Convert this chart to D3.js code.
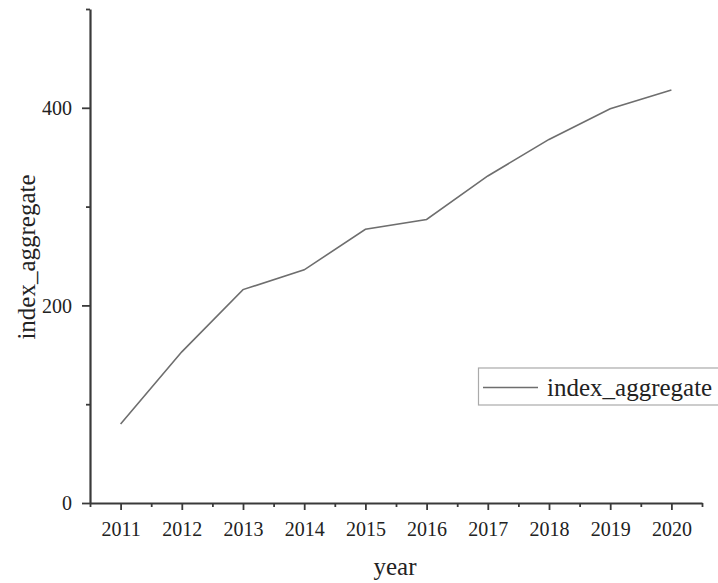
<!DOCTYPE html>
<html>
<head>
<meta charset="utf-8">
<script src="https://cdn.jsdelivr.net/npm/d3@7"></script>
<style>
  html, body { margin: 0; padding: 0; background: #fff; }
  svg { display: block; }
  text { font-family: "Liberation Serif", "Times New Roman", serif; fill: #222; }
</style>
</head>
<body>
<svg id="chart" width="718" height="583"></svg>
<script>
// ---- data ----
const years = [2011, 2012, 2013, 2014, 2015, 2016, 2017, 2018, 2019, 2020];
const indexAggregate = [80, 153, 216, 236, 277, 287, 331, 368, 399, 418];
const yMajorTicks = [0, 200, 400];
const yMinorTicks = [100, 300, 500];
const xMinorTicks = [2010.5, 2011.5, 2012.5, 2013.5, 2014.5, 2015.5, 2016.5, 2017.5, 2018.5, 2019.5, 2020.5];
const seriesName = "index_aggregate";
const xTitle = "year";
const yTitle = "index_aggregate";

(function () {
// ---- layout ----
const mLeft = 90, mRight = 702, mTop = 9, mBottom = 503;
const svg = d3.select("#chart");

const x = d3.scaleLinear().domain([2010.5, 2020.5]).range([mLeft, mRight]);
const y = d3.scaleLinear().domain([0, 500]).range([mBottom, mTop]);

const axisColor = "#3a3a3a";

// X axis major
const gx = svg.append("g").attr("transform", `translate(0,${mBottom})`)
  .call(d3.axisBottom(x).tickValues(years).tickFormat(d3.format("d")).tickSize(7).tickSizeOuter(0));
gx.select(".domain").attr("stroke", axisColor).attr("stroke-width", 2.2);
gx.selectAll(".tick line").attr("stroke", axisColor).attr("stroke-width", 1.8);
gx.selectAll(".tick text").attr("font-size", 20).attr("fill", "#222").attr("dy", "0").attr("y", 33);

// X axis minor
const gxm = svg.append("g").attr("transform", `translate(0,${mBottom})`)
  .call(d3.axisBottom(x).tickValues(xMinorTicks).tickFormat("").tickSize(4).tickSizeOuter(0));
gxm.select(".domain").remove();
gxm.selectAll(".tick line").attr("stroke", axisColor).attr("stroke-width", 1.8);

// Y axis major
const gy = svg.append("g").attr("transform", `translate(${mLeft},0)`)
  .call(d3.axisLeft(y).tickValues(yMajorTicks).tickFormat(d3.format("d")).tickSize(8).tickSizeOuter(0));
gy.select(".domain").attr("stroke", axisColor).attr("stroke-width", 2.2);
gy.selectAll(".tick line").attr("stroke", axisColor).attr("stroke-width", 1.8);
gy.selectAll(".tick text").attr("font-size", 20).attr("fill", "#222").attr("x", -18).attr("dy", "0.34em");

// Y axis minor
const gym = svg.append("g").attr("transform", `translate(${mLeft},0)`)
  .call(d3.axisLeft(y).tickValues(yMinorTicks).tickFormat("").tickSize(4).tickSizeOuter(0));
gym.select(".domain").remove();
gym.selectAll(".tick line").attr("stroke", axisColor).attr("stroke-width", 1.8);

// line
const data = years.map((yr, i) => ({ year: yr, value: indexAggregate[i] }));
svg.append("path")
  .datum(data)
  .attr("fill", "none")
  .attr("stroke", "#6e6e6e")
  .attr("stroke-width", 1.6)
  .attr("d", d3.line().x(d => x(d.year)).y(d => y(d.value)));

// axis titles
svg.append("text")
  .attr("x", 395).attr("y", 575)
  .attr("text-anchor", "middle")
  .attr("font-size", 25)
  .text(xTitle);

svg.append("text")
  .attr("transform", "translate(35,257) rotate(-90)")
  .attr("text-anchor", "middle")
  .attr("font-size", 25)
  .text(yTitle);

// legend
const lg = svg.append("g");
lg.append("rect")
  .attr("x", 478.5).attr("y", 368)
  .attr("width", 245).attr("height", 37)
  .attr("fill", "#fff")
  .attr("stroke", "#aaa").attr("stroke-width", 1.2);
lg.append("line")
  .attr("x1", 483).attr("x2", 538)
  .attr("y1", 387.5).attr("y2", 387.5)
  .attr("stroke", "#6e6e6e").attr("stroke-width", 1.6);
lg.append("text")
  .attr("x", 547).attr("y", 396)
  .attr("font-size", 25)
  .text(seriesName);
})();
</script>
</body>
</html>
